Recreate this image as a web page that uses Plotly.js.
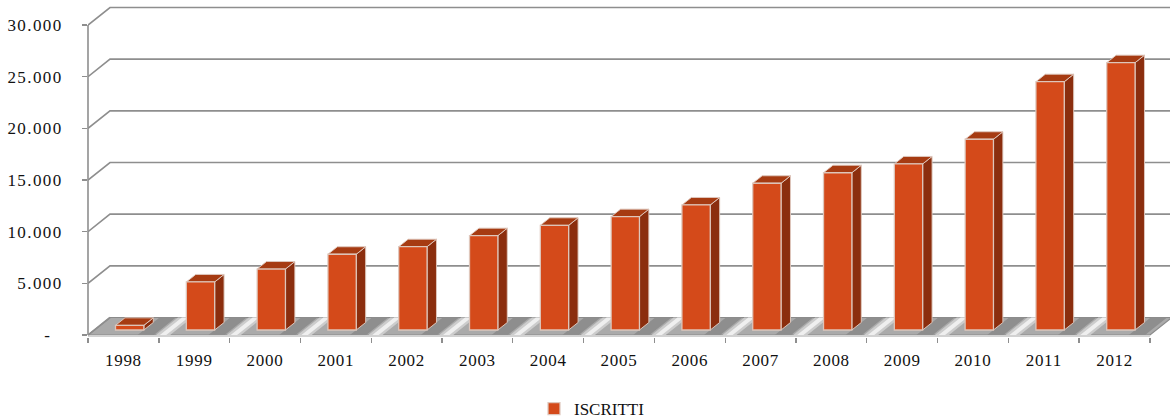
<!DOCTYPE html>
<html>
<head>
<meta charset="utf-8">
<script src="https://cdn.plot.ly/plotly-3.0.1.min.js"></script>
<style>
  html, body { margin: 0; padding: 0; background: #ffffff; }
  #chart { width: 1170px; height: 419px; }
  #chart .ytick text { letter-spacing: 1.4px; }
  #chart .x2tick text { letter-spacing: 0.7px; }
</style>
</head>
<body>
<div id="chart"></div>
<script>
// ---- data ----
const YEARS = ['1998', '1999', '2000', '2001', '2002', '2003', '2004', '2005',
               '2006', '2007', '2008', '2009', '2010', '2011', '2012'];
const ISCRITTI = [450, 4650, 5900, 7330, 8060, 9130, 10130, 10970,
                  12100, 14200, 15220, 16070, 18460, 24030, 25870];
const Y_TICKS = [0, 5000, 10000, 15000, 20000, 25000, 30000];
const Y_TICK_LABELS = ['-\u00a0\u00a0', '5.000', '10.000', '15.000', '20.000', '25.000', '30.000'];
const SERIES_NAME = 'ISCRITTI';

// ---- geometry of the oblique 3D frame (pixels) ----
const W = 1170, H = 419;
const PLOT_L = 88, PLOT_R = 1170, PLOT_T = 5, PLOT_B = 337;
const CAT_PX = 70.8;              // one category on the front plane
const VAL_PX = 310 / 30000;       // pixels per unit of value
const FRONT_BASE_PX = 335;        // y pixel of value 0 on the front plane
const DEPTH_X_PX = 22, DEPTH_Y_PX = 17.5;   // front plane -> back wall offset

const X_RANGE = [-0.5, -0.5 + (PLOT_R - PLOT_L) / CAT_PX];
const Y_RANGE = [-(PLOT_B - FRONT_BASE_PX) / VAL_PX, (FRONT_BASE_PX - PLOT_T) / VAL_PX];
const DX = DEPTH_X_PX / CAT_PX;   // depth offset in category units
const DY = DEPTH_Y_PX / VAL_PX;   // depth offset in value units
const N = YEARS.length;

// bar block spans these depths (0 = front edge of floor, 1 = back wall)
const BAR_Z0 = 5 / 17.5, BAR_Z1 = 12.5 / 17.5;
const BAR_W = 0.4;

// ---- colours ----
const C_FRONT = '#D44A1A';
const C_SIDE = '#8B2E0E';
const C_TOP = '#A63B12';
const C_EDGE = 'rgba(222,200,190,0.95)';
const C_GRID = '#8e8e8e';
const C_FLOOR = '#aaaaaa';
const FONT = { family: 'Liberation Serif, Times New Roman, serif', size: 17, color: '#111111' };

// project a point (x, value) at depth z onto the plane of the chart
function proj(x, v, z) { return [x + z * DX, v + z * DY]; }

// collect polygons into one fill trace, separated by gaps
function polyTrace(polys, fill, line, lineWidth) {
  const xs = [], ys = [];
  polys.forEach(p => {
    p.forEach(pt => { xs.push(pt[0]); ys.push(pt[1]); });
    xs.push(p[0][0]); ys.push(p[0][1]);
    xs.push(null); ys.push(null);
  });
  return {
    type: 'scatter', mode: 'lines', x: xs, y: ys, xaxis: 'x', yaxis: 'y',
    fill: 'toself', fillcolor: fill,
    line: { color: line || fill, width: lineWidth === undefined ? 0 : lineWidth },
    hoverinfo: 'skip', showlegend: false
  };
}

const traces = [];

// floor
const floorL = -0.5, floorR = N - 0.5;
traces.push(polyTrace([[proj(floorL, 0, 0), proj(floorR, 0, 0), proj(floorR, 0, 1), proj(floorL, 0, 1)]],
  C_FLOOR, '#8a8a8a', 1.2));

// front edge of the floor slab
const slab = -1.9 / VAL_PX;
traces.push(polyTrace([[[floorL, 0], [floorR, 0], [floorR, slab], [floorL, slab]]], '#d2d2d2', '#d2d2d2', 0));

// darker shading to the right of each bar and light streaks along category boundaries
const shade = [], streakOuter = [], streakInner = [];
for (let i = 0; i < N; i++) {
  const a = i + 0.2, b = i + 0.43;
  shade.push([proj(a, 0, 0), proj(b, 0, 0), proj(b, 0, 1), proj(a, 0, 1)]);
}
for (let k = 1; k < N; k++) {
  const c = k - 0.5 + 0.06;
  streakOuter.push([proj(c - 0.1, 0, 0), proj(c + 0.1, 0, 0), proj(c + 0.1, 0, 1), proj(c - 0.1, 0, 1)]);
  streakInner.push([proj(c - 0.045, 0, 0), proj(c + 0.045, 0, 0), proj(c + 0.045, 0, 1), proj(c - 0.045, 0, 1)]);
}
traces.push(polyTrace(shade, '#8e8e8e'));
traces.push(polyTrace(streakOuter, '#cccccc'));
traces.push(polyTrace(streakInner, '#efefef'));

// back wall gridlines with their diagonal run to the front axis
(function () {
  const xs = [], ys = [];
  Y_TICKS.forEach(v => {
    if (v === 0) return;
    const p0 = proj(-0.5, v, 0), p1 = proj(-0.5, v, 1);
    xs.push(p0[0], p1[0], X_RANGE[1] + 1, null);
    ys.push(p0[1], p1[1], p1[1], null);
  });
  // left edge of the floor
  const f0 = proj(-0.5, 0, 0), f1 = proj(-0.5, 0, 1);
  xs.push(f0[0], f1[0], null); ys.push(f0[1], f1[1], null);
  traces.push({
    type: 'scatter', mode: 'lines', x: xs, y: ys, xaxis: 'x', yaxis: 'y',
    line: { color: C_GRID, width: 1.6 }, hoverinfo: 'skip', showlegend: false
  });
})();

// side and top faces of each bar
const sides = [], tops = [];
ISCRITTI.forEach((v, i) => {
  const xl = i - BAR_W / 2, xr = i + BAR_W / 2;
  const base = 0, top = v;
  sides.push([proj(xr, base, BAR_Z0), proj(xr, top, BAR_Z0), proj(xr, top, BAR_Z1), proj(xr, base, BAR_Z1)]);
  tops.push([proj(xl, top, BAR_Z0), proj(xr, top, BAR_Z0), proj(xr, top, BAR_Z1), proj(xl, top, BAR_Z1)]);
});
traces.push(polyTrace(sides, C_SIDE, C_EDGE, 1));
traces.push(polyTrace(tops, C_TOP, C_EDGE, 1));

// front faces: the bar series itself, on the category axis
traces.push({
  type: 'bar', name: SERIES_NAME, x: YEARS, y: ISCRITTI,
  base: BAR_Z0 * DY, width: BAR_W, offset: -BAR_W / 2 + BAR_Z0 * DX,
  xaxis: 'x2', yaxis: 'y',
  marker: { color: C_FRONT, line: { color: C_EDGE, width: 1.3 } },
  hoverinfo: 'skip', showlegend: true
});

const layout = {
  width: W, height: H,
  margin: { l: PLOT_L, r: W - PLOT_R, t: PLOT_T, b: H - PLOT_B, pad: 0, autoexpand: false },
  paper_bgcolor: '#ffffff', plot_bgcolor: 'rgba(0,0,0,0)',
  font: FONT,
  hovermode: false,
  showlegend: true,
  legend: {
    orientation: 'h', x: (534 - PLOT_L) / (PLOT_R - PLOT_L), xanchor: 'left',
    y: -(409 - PLOT_B) / (PLOT_B - PLOT_T), yanchor: 'middle',
    font: FONT, bgcolor: 'rgba(0,0,0,0)', itemwidth: 30
  },
  xaxis: { range: X_RANGE, autorange: false, visible: false, fixedrange: true },
  xaxis2: {
    type: 'category', overlaying: 'x', anchor: 'y', side: 'bottom',
    categoryorder: 'array', categoryarray: YEARS,
    range: X_RANGE, autorange: false, tickson: 'boundaries',
    ticks: 'outside', ticklen: 5, tickwidth: 1.4, tickcolor: C_GRID,
    ticklabelstandoff: 11,
    showgrid: false, showline: false, zeroline: false, tickfont: FONT, fixedrange: true
  },
  yaxis: {
    range: Y_RANGE, autorange: false, tickmode: 'array',
    tickvals: Y_TICKS, ticktext: Y_TICK_LABELS,
    ticks: 'outside', ticklen: 5, tickwidth: 1.4, tickcolor: C_GRID,
    ticklabelstandoff: 16,
    showgrid: false, zeroline: false, showline: false, tickfont: FONT, fixedrange: true
  },
  shapes: [{
    type: 'line', xref: 'paper', yref: 'y', x0: 0, x1: 0, y0: 0, y1: Y_TICKS[Y_TICKS.length - 1],
    line: { color: C_GRID, width: 1.6 }
  }]
};

Plotly.newPlot('chart', traces, layout, { displayModeBar: false, staticPlot: true });
</script>
</body>
</html>
